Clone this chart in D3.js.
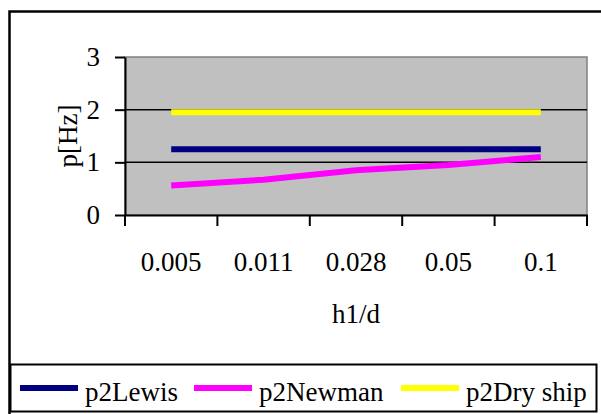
<!DOCTYPE html>
<html>
<head>
<meta charset="utf-8">
<script src="https://cdn.jsdelivr.net/npm/d3@7"></script>
<style>
  body { margin: 0; background: #fff; }
  svg { display: block; }
  text { font-family: "Liberation Serif", "Times New Roman", serif; fill: #000; }
</style>
</head>
<body>
<svg width="601" height="414"></svg>
<script>
const categories = ['0.005', '0.011', '0.028', '0.05', '0.1'];
const p2Lewis = [1.25, 1.25, 1.25, 1.25, 1.25];
const p2Newman = [0.56, 0.67, 0.85, 0.95, 1.10];
const p2DryShip = [1.95, 1.95, 1.95, 1.95, 1.95];
const yTicks = [0, 1, 2, 3];

const series = [
  { name: 'p2Lewis', values: p2Lewis, color: '#000080' },
  { name: 'p2Newman', values: p2Newman, color: '#ff00ff' },
  { name: 'p2Dry ship', values: p2DryShip, color: '#ffff00' }
];

const svg = d3.select('svg');
const fontSize = 27;

// outer chart frame (runs off the right and bottom edges)
svg.append('rect')
  .attr('x', 9.5).attr('y', 11.5)
  .attr('width', 620).attr('height', 430)
  .attr('fill', '#fff')
  .attr('stroke', '#000')
  .attr('stroke-width', 2.5);

const plot = { left: 125, right: 587, top: 57, bottom: 215 };

const x = d3.scaleBand()
  .domain(categories)
  .range([plot.left, plot.right]);
const y = d3.scaleLinear()
  .domain([0, 3])
  .range([plot.bottom, plot.top]);

svg.append('rect')
  .attr('x', plot.left).attr('y', plot.top)
  .attr('width', plot.right - plot.left)
  .attr('height', plot.bottom - plot.top)
  .attr('fill', '#c0c0c0')
  .attr('stroke', '#808080')
  .attr('stroke-width', 1.5);

// gridlines
svg.selectAll('line.grid')
  .data(yTicks.filter(d => d > 0 && d < 3))
  .enter()
    .append('line')
    .attr('class', 'grid')
    .attr('x1', plot.left).attr('x2', plot.right)
    .attr('y1', d => y(d)).attr('y2', d => y(d))
    .attr('stroke', '#000')
    .attr('stroke-width', 1.5);

// y axis
const yAxis = svg.append('g')
  .attr('transform', `translate(${plot.left},0)`)
  .call(d3.axisLeft(y).tickValues(yTicks).tickFormat(d3.format('d'))
    .tickSize(10).tickPadding(15).tickSizeOuter(0));
yAxis.select('.domain').attr('stroke', '#000').attr('stroke-width', 2);
yAxis.selectAll('.tick line').attr('stroke', '#000').attr('stroke-width', 2);
yAxis.selectAll('text').style('font-size', fontSize + 'px')
  .style('font-family', '"Liberation Serif", serif').attr('fill', '#000');

// x axis: labels centred on categories, ticks between them
const xAxis = svg.append('g')
  .attr('transform', `translate(0,${plot.bottom})`)
  .call(d3.axisBottom(x).tickSize(0).tickPadding(37).tickSizeOuter(0));
xAxis.select('.domain').attr('stroke', '#000').attr('stroke-width', 2);
xAxis.selectAll('text').style('font-size', fontSize + 'px')
  .style('font-family', '"Liberation Serif", serif').attr('fill', '#000');

const bounds = categories.map(c => x(c)).concat([x(categories[categories.length - 1]) + x.bandwidth()]);
svg.selectAll('line.xtick')
  .data(bounds)
  .enter()
    .append('line')
    .attr('class', 'xtick')
    .attr('x1', d => d).attr('x2', d => d)
    .attr('y1', plot.bottom).attr('y2', plot.bottom + 11)
    .attr('stroke', '#000')
    .attr('stroke-width', 2);

// axis titles
svg.append('text')
  .attr('x', (plot.left + plot.right) / 2)
  .attr('y', 323)
  .attr('text-anchor', 'middle')
  .style('font-size', fontSize + 'px')
  .text('h1/d');

svg.append('text')
  .attr('transform', `translate(77,${(plot.top + plot.bottom) / 2}) rotate(-90)`)
  .attr('text-anchor', 'middle')
  .style('font-size', fontSize + 'px')
  .text('p[Hz]');

// series lines
const line = d3.line()
  .x((d, i) => x(categories[i]) + x.bandwidth() / 2)
  .y(d => y(d));

svg.selectAll('path.series')
  .data(series)
  .enter()
    .append('path')
    .attr('class', 'series')
    .attr('d', d => line(d.values))
    .attr('fill', 'none')
    .attr('stroke', d => d.color)
    .attr('stroke-width', 6);

// legend
svg.append('rect')
  .attr('x', 10.5).attr('y', 364.5)
  .attr('width', 586).attr('height', 47)
  .attr('fill', '#fff')
  .attr('stroke', '#000')
  .attr('stroke-width', 2);

const legendX = [20, 194, 401];
const legend = svg.selectAll('g.legend')
  .data(series)
  .enter()
    .append('g')
    .attr('class', 'legend')
    .attr('transform', (d, i) => `translate(${legendX[i]},388)`);
legend.append('line')
  .attr('x1', 0).attr('x2', 58)
  .attr('stroke', d => d.color)
  .attr('stroke-width', 6);
legend.append('text')
  .attr('x', 65)
  .attr('y', 12.5)
  .style('font-size', fontSize + 'px')
  .text(d => d.name);
</script>
</body>
</html>
